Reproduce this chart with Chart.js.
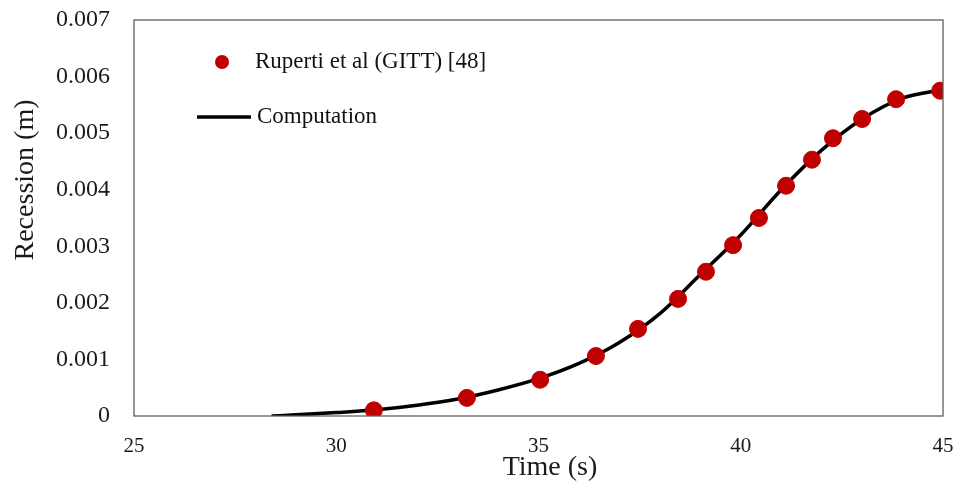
<!DOCTYPE html>
<html>
<head>
<meta charset="utf-8">
<script src="https://cdn.jsdelivr.net/npm/chart.js@4/dist/chart.umd.min.js"></script>
<style>
  html, body { margin: 0; padding: 0; background: #fff; }
  #wrap { width: 959px; height: 492px; }
</style>
</head>
<body>
<div id="wrap"><canvas id="chart" width="959" height="492"></canvas></div>
<script>
// Measured data (Ruperti et al, GITT)
const expTime = [30.93, 33.23, 35.04, 36.42, 37.46, 38.45, 39.14, 39.81, 40.45, 41.12, 41.76, 42.28, 43.0, 43.84, 44.93];
const expRecession = [0.0001, 0.00032, 0.00064, 0.00106, 0.00154, 0.00207, 0.00255, 0.00302, 0.0035, 0.00407, 0.00453, 0.00491, 0.00525, 0.0056, 0.00575];

// Computed curve
const compTime = [28.4, 29, 30, 31, 32, 33, 34, 35, 36, 37, 38, 39, 40, 41, 42, 43, 44, 45];
const compRecession = [0, 0.00002, 0.00006, 0.00011, 0.00019, 0.0003, 0.00046, 0.00066, 0.00093, 0.0013, 0.00181, 0.0025, 0.0032, 0.004, 0.0047, 0.00525, 0.00562, 0.00577];

// Axis ticks
const xTicks = [25, 30, 35, 40, 45];
const yTicks = [0, 0.001, 0.002, 0.003, 0.004, 0.005, 0.006, 0.007];

const seriesLabels = ['Ruperti et al (GITT) [48]', 'Computation'];
const xTitle = 'Time (s)';
const yTitle = 'Recession (m)';

const serif = "'Liberation Serif', 'Times New Roman', serif";
const red = '#C00000';

// box round the plot area, axis titles and the legend inside the plot
const decorations = {
  id: 'decorations',
  afterDraw(chart) {
    const { ctx, chartArea: a } = chart;
    ctx.save();
    ctx.strokeStyle = '#5f5f5f';
    ctx.lineWidth = 1.3;
    ctx.strokeRect(a.left, a.top, a.right - a.left, a.bottom - a.top);

    ctx.fillStyle = '#1a1a1a';
    ctx.font = '28px ' + serif;
    ctx.textAlign = 'center';
    ctx.textBaseline = 'middle';
    ctx.fillText(xTitle, 550, 468);
    ctx.save();
    ctx.translate(26, 180);
    ctx.rotate(-Math.PI / 2);
    ctx.fillText(yTitle, 0, 0);
    ctx.restore();

    // legend
    const ds = chart.data.datasets;
    ctx.font = '23px ' + serif;
    ctx.textAlign = 'left';
    ctx.fillStyle = ds[0].backgroundColor;
    ctx.beginPath();
    ctx.arc(222, 62, 7, 0, Math.PI * 2);
    ctx.fill();
    ctx.fillStyle = '#111';
    ctx.fillText(ds[0].label, 255, 62);

    ctx.strokeStyle = ds[1].borderColor;
    ctx.lineWidth = 3.5;
    ctx.beginPath();
    ctx.moveTo(197, 117);
    ctx.lineTo(251, 117);
    ctx.stroke();
    ctx.fillText(ds[1].label, 257, 117);
    ctx.restore();
  }
};

new Chart(document.getElementById('chart'), {
  type: 'scatter',
  data: {
    datasets: [
      {
        label: seriesLabels[0],
        data: expTime.map((t, i) => ({ x: t, y: expRecession[i] })),
        backgroundColor: red,
        borderColor: red,
        pointRadius: 8.5,
        pointHoverRadius: 8.5,
        showLine: false
      },
      {
        label: seriesLabels[1],
        data: compTime.map((t, i) => ({ x: t, y: compRecession[i] })),
        borderColor: '#000',
        backgroundColor: '#000',
        borderWidth: 3.5,
        pointRadius: 0,
        showLine: true,
        cubicInterpolationMode: 'monotone'
      }
    ]
  },
  options: {
    responsive: false,
    animation: false,
    layout: { padding: { left: 0, right: 16, top: 20, bottom: 0 } },
    plugins: {
      legend: { display: false },
      tooltip: { enabled: false }
    },
    scales: {
      x: {
        type: 'linear',
        min: 25,
        max: 45,
        afterBuildTicks: s => { s.ticks = xTicks.map(v => ({ value: v })); },
        afterFit: s => {
          s.height = 76;
          s.paddingLeft = 0;
          s.paddingRight = 0;
        },
        grid: { display: false, drawTicks: false },
        border: { display: false },
        ticks: {
          padding: 18,
          color: '#1a1a1a',
          font: { family: serif, size: 21 }
        }
      },
      y: {
        type: 'linear',
        min: 0,
        max: 0.007,
        afterBuildTicks: s => { s.ticks = yTicks.map(v => ({ value: v })); },
        afterFit: s => {
          s.width = 134;
          s.paddingTop = 0;
          s.paddingBottom = 0;
        },
        grid: { display: false, drawTicks: false },
        border: { display: false },
        ticks: {
          padding: 24,
          color: '#1a1a1a',
          font: { family: serif, size: 24 },
          callback: v => v === 0 ? '0' : v.toFixed(3)
        }
      }
    }
  },
  plugins: [decorations]
});
</script>
</body>
</html>
